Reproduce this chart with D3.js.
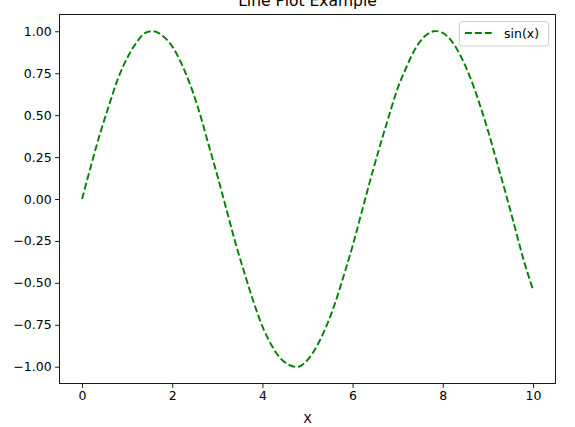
<!DOCTYPE html>
<html>
<head>
<meta charset="utf-8">
<script src="https://cdn.jsdelivr.net/npm/d3@7"></script>
<style>
  body { margin: 0; background: #fff; }
  svg { display: block; font-family: "DejaVu Sans", sans-serif; }
</style>
</head>
<body>
<div id="chart"></div>
<script>
// values, x step 0.2
var xValues = [0, 0.2, 0.4, 0.6, 0.8, 1.0, 1.2, 1.4, 1.6, 1.8, 2.0, 2.2, 2.4, 2.6, 2.8, 3.0,
    3.2, 3.4, 3.6, 3.8, 4.0, 4.2, 4.4, 4.6, 4.8, 5.0, 5.2, 5.4, 5.6, 5.8, 6.0, 6.2, 6.4,
    6.6, 6.8, 7.0, 7.2, 7.4, 7.6, 7.8, 8.0, 8.2, 8.4, 8.6, 8.8, 9.0, 9.2, 9.4, 9.6, 9.8, 10.0];
var sinValues = [0.00, 0.20, 0.39, 0.56, 0.72, 0.84, 0.93, 0.99, 1.00, 0.97, 0.91, 0.81, 0.68,
    0.52, 0.33, 0.14, -0.06, -0.26, -0.44, -0.61, -0.76, -0.87, -0.95, -0.99, -1.00, -0.96,
    -0.88, -0.77, -0.63, -0.46, -0.28, -0.08, 0.12, 0.31, 0.49, 0.66, 0.79, 0.90, 0.97, 1.00,
    0.99, 0.94, 0.85, 0.73, 0.58, 0.41, 0.22, 0.03, -0.17, -0.37, -0.54];
var xTicks = [0, 2, 4, 6, 8, 10];
var yTicks = [-1.00, -0.75, -0.50, -0.25, 0.00, 0.25, 0.50, 0.75, 1.00];
var seriesName = "sin(x)";
var chartTitle = "Line Plot Example";
var xLabel = "X";

var width = 575, height = 427;
var margin = {top: 14.5, right: 19.5, bottom: 43.5, left: 59.5};
var w = width - margin.left - margin.right;
var h = height - margin.top - margin.bottom;

var svg = d3.select("#chart").append("svg")
    .attr("width", width)
    .attr("height", height);

var x = d3.scaleLinear().domain([-0.5, 10.5]).range([0, w]);
var y = d3.scaleLinear().domain([-1.1, 1.1]).range([h, 0]);

var plot = svg.append("g")
    .attr("transform", `translate(${margin.left},${margin.top})`);

var data = xValues.map((d, i) => ({x: d, y: sinValues[i]}));

var line = d3.line()
    .x(d => x(d.x))
    .y(d => y(d.y))
    .curve(d3.curveCatmullRom);

plot.append("path")
    .datum(data)
    .attr("fill", "none")
    .attr("stroke", "#008000")
    .attr("stroke-width", 1.9)
    .attr("stroke-dasharray", "6.9,3")
    .attr("d", line);

// axes
var fmtY = d => d3.format(".2f")(d).replace("-", "\u2212");

var xAxis = plot.append("g")
    .attr("transform", `translate(0,${h})`)
    .call(d3.axisBottom(x).tickValues(xTicks).tickSize(4.4).tickPadding(3.5).tickFormat(d3.format("d")));

var yAxis = plot.append("g")
    .call(d3.axisLeft(y).tickValues(yTicks).tickSize(4.4).tickPadding(3.5).tickFormat(fmtY));

[xAxis, yAxis].forEach(a => {
    a.select(".domain").remove();
    a.selectAll("line").attr("stroke", "#000").attr("stroke-width", 0.9);
    a.selectAll("text").attr("fill", "#000").style("font-size", "12.5px")
        .style("font-family", "DejaVu Sans");
});

// frame
plot.append("rect")
    .attr("width", w)
    .attr("height", h)
    .attr("fill", "none")
    .attr("stroke", "#000")
    .attr("stroke-width", 0.9);

// title & label (title is clipped at the top edge, like the original)
svg.append("text")
    .attr("x", margin.left + w / 2)
    .attr("y", 6)
    .attr("text-anchor", "middle")
    .style("font-size", "15.5px")
    .text(chartTitle);

svg.append("text")
    .attr("x", margin.left + w / 2)
    .attr("y", 423)
    .attr("text-anchor", "middle")
    .style("font-size", "12.5px")
    .text(xLabel);

// legend
var legend = svg.append("g")
    .attr("transform", "translate(459.5,21.5)");

legend.append("rect")
    .attr("width", 89)
    .attr("height", 24.5)
    .attr("rx", 2.5)
    .attr("fill", "#fff")
    .attr("fill-opacity", 0.8)
    .attr("stroke", "#cccccc")
    .attr("stroke-width", 0.9);

legend.append("line")
    .attr("x1", 5.5)
    .attr("x2", 33.5)
    .attr("y1", 11.5)
    .attr("y2", 11.5)
    .attr("stroke", "#008000")
    .attr("stroke-width", 1.9)
    .attr("stroke-dasharray", "6.9,3");

legend.append("text")
    .attr("x", 44.5)
    .attr("y", 16)
    .style("font-size", "12.5px")
    .text(seriesName);
</script>
</body>
</html>
